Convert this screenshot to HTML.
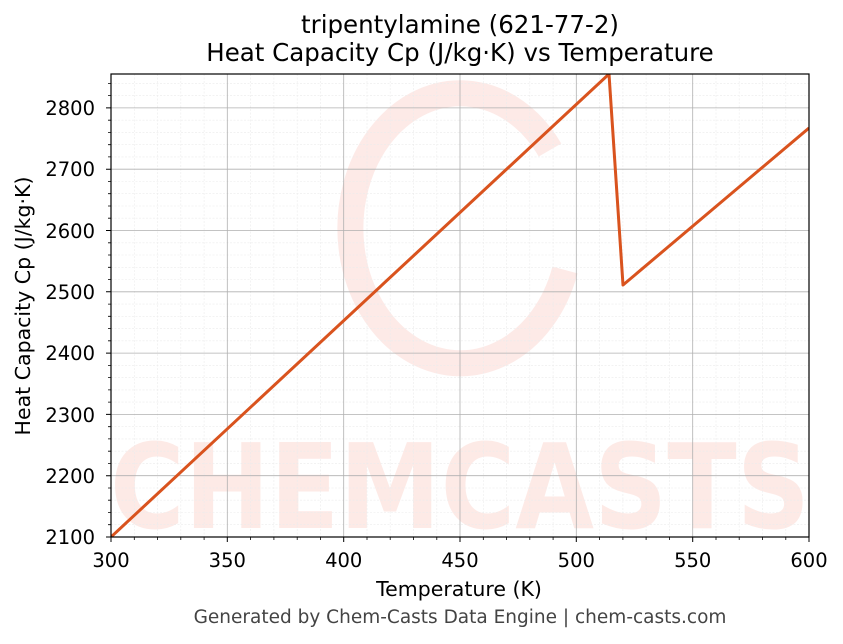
<!DOCTYPE html>
<html><head><meta charset="utf-8"><style>body{margin:0;background:#fff}svg{display:block}text{font-family:"DejaVu Sans","Liberation Sans",sans-serif}</style></head>
<body>
<svg width="843" height="644" viewBox="0 0 843 644" xmlns="http://www.w3.org/2000/svg">
<rect width="843" height="644" fill="#fff"/>
<defs><clipPath id="c"><rect x="111" y="74" width="698" height="463"/></clipPath></defs>
<g clip-path="url(#c)" opacity="0.5">
<path d="M550 150 A110 135 0 1 0 565 270" fill="none" stroke="#fcd6cf" stroke-width="26"/>
<text x="460" y="528" font-size="118" font-weight="bold" fill="#fcd6cf" text-anchor="middle" textLength="700" lengthAdjust="spacingAndGlyphs">CHEMCASTS</text>
</g>
<g stroke="#ececec" stroke-width="0.6" stroke-dasharray="2,1.5">
<path d="M134.3 74V537M157.5 74V537M180.8 74V537M204.1 74V537M250.6 74V537M273.9 74V537M297.2 74V537M320.4 74V537M367 74V537M390.2 74V537M413.5 74V537M436.8 74V537M483.3 74V537M506.5 74V537M529.8 74V537M553.1 74V537M599.6 74V537M622.9 74V537M646.1 74V537M669.4 74V537M716 74V537M739.2 74V537M762.5 74V537M785.8 74V537"/>
<path d="M111 524.7H809M111 512.5H809M111 500.2H809M111 488H809M111 463.4H809M111 451.2H809M111 438.9H809M111 426.7H809M111 402.1H809M111 389.9H809M111 377.6H809M111 365.4H809M111 340.8H809M111 328.6H809M111 316.3H809M111 304.1H809M111 279.5H809M111 267.3H809M111 255H809M111 242.8H809M111 218.2H809M111 206H809M111 193.7H809M111 181.5H809M111 156.9H809M111 144.7H809M111 132.4H809M111 120.2H809M111 95.6H809M111 83.4H809"/>
</g>
<g stroke="#b0b0b0" stroke-width="0.8">
<path d="M227.3 74V537M343.7 74V537M460 74V537M576.3 74V537M692.7 74V537"/>
<path d="M111 475.7H809M111 414.4H809M111 353.1H809M111 291.8H809M111 230.5H809M111 169.2H809M111 107.9H809"/>
</g>
<polyline clip-path="url(#c)" points="111,537 609,74 623,285 809,128" fill="none" stroke="#d9531e" stroke-width="3" stroke-linejoin="round"/>
<rect x="111" y="74" width="698" height="463" fill="none" stroke="#000" stroke-width="1.2"/>
<g stroke="#000" stroke-width="1">
<path d="M111 537v5M227.3 537v5M343.7 537v5M460 537v5M576.3 537v5M692.7 537v5M809 537v5"/>
<path d="M111 537h-5M111 475.7h-5M111 414.4h-5M111 353.1h-5M111 291.8h-5M111 230.5h-5M111 169.2h-5M111 107.9h-5"/>
</g>
<g stroke="#000" stroke-width="0.8">
<path d="M134.3 537v3M157.5 537v3M180.8 537v3M204.1 537v3M250.6 537v3M273.9 537v3M297.2 537v3M320.4 537v3M367 537v3M390.2 537v3M413.5 537v3M436.8 537v3M483.3 537v3M506.5 537v3M529.8 537v3M553.1 537v3M599.6 537v3M622.9 537v3M646.1 537v3M669.4 537v3M716 537v3M739.2 537v3M762.5 537v3M785.8 537v3"/>
<path d="M111 524.7h-3M111 512.5h-3M111 500.2h-3M111 488h-3M111 463.4h-3M111 451.2h-3M111 438.9h-3M111 426.7h-3M111 402.1h-3M111 389.9h-3M111 377.6h-3M111 365.4h-3M111 340.8h-3M111 328.6h-3M111 316.3h-3M111 304.1h-3M111 279.5h-3M111 267.3h-3M111 255h-3M111 242.8h-3M111 218.2h-3M111 206h-3M111 193.7h-3M111 181.5h-3M111 156.9h-3M111 144.7h-3M111 132.4h-3M111 120.2h-3M111 95.6h-3M111 83.4h-3"/>
</g>
<g font-size="19.5" fill="#000">
<g text-anchor="middle">
<text x="111" y="567">300</text><text x="227.3" y="567">350</text><text x="343.7" y="567">400</text><text x="460" y="567">450</text><text x="576.3" y="567">500</text><text x="692.7" y="567">550</text><text x="809" y="567">600</text>
</g>
<g text-anchor="end">
<text x="95" y="544">2100</text><text x="95" y="483">2200</text><text x="95" y="422">2300</text><text x="95" y="360">2400</text><text x="95" y="299">2500</text><text x="95" y="238">2600</text><text x="95" y="176">2700</text><text x="95" y="115">2800</text>
</g>
<text x="459" y="596" text-anchor="middle" font-size="20.5">Temperature (K)</text>
<text transform="translate(30 306) rotate(-90)" text-anchor="middle" font-size="20.5">Heat Capacity Cp (J/kg·K)</text>
<text x="460" y="33" text-anchor="middle" font-size="24.5">tripentylamine (621-77-2)</text>
<text x="460" y="61" text-anchor="middle" font-size="24.5">Heat Capacity Cp (J/kg·K) vs Temperature</text>
<text x="460" y="623" text-anchor="middle" font-size="18.5" fill="#444">Generated by Chem-Casts Data Engine | chem-casts.com</text>
</g>
</svg>
</body></html>
